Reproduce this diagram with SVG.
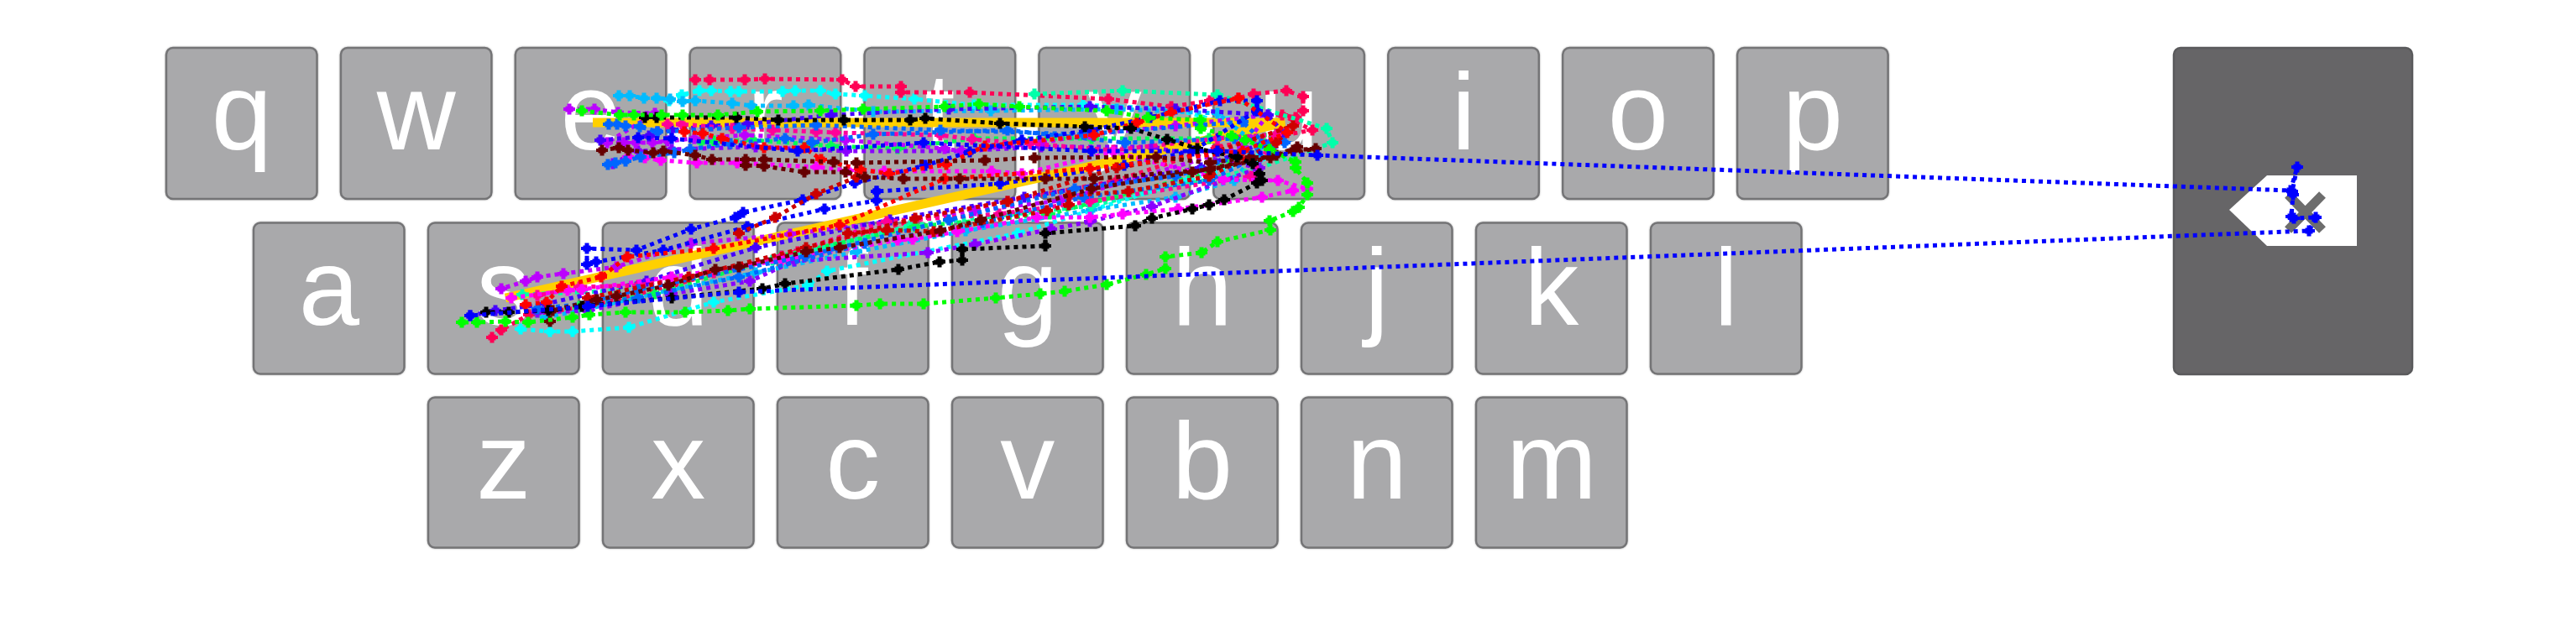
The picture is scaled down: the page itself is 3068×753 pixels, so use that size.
<svg xmlns="http://www.w3.org/2000/svg" width="3068" height="753" viewBox="0 0 3068 753">
<style>
.key rect{fill:#a9a9ab;stroke:#747476;stroke-width:2.5;filter:drop-shadow(0 0 1px #b4b4b4)}
.key text{font-family:"Liberation Sans",Arial,sans-serif;font-size:130px;fill:#fff;text-anchor:middle}
#connectors polyline{fill:none;stroke-width:5;stroke-dasharray:5 5}
#connectors polyline.gold{stroke:#ffd000;stroke-width:11;stroke-dasharray:none}
.a{stroke:#f05;marker:url(#ma)}.b{stroke:#0fa;marker:url(#mb)}.c{stroke:#0bf;marker:url(#mc)}.d{stroke:#0ff;marker:url(#md)}
.e{stroke:#0f0;marker:url(#me)}.f{stroke:#000;marker:url(#mf)}.g{stroke:#00f;marker:url(#mg)}.h{stroke:#06f;marker:url(#mh)}
.i{stroke:#40f;marker:url(#mi)}.j{stroke:#b0f;marker:url(#mj)}.k{stroke:#f0f;marker:url(#mk)}.l{stroke:#f09;marker:url(#ml)}
.m{stroke:#f00;marker:url(#mm)}.n{stroke:#c00;marker:url(#mn)}.o{stroke:#600;marker:url(#mo)}.p{stroke:#80f;marker:url(#mp)}.q{stroke:#0f5;marker:url(#mq)}
</style>
<defs>
<path id="plus" d="M-2.500-6.500H2.500V-3.500H4.500V-2H7V2H4.500V3.500H2.500V6.500H-2.500V3.500H-4.500V2H-7V-2H-4.500V-3.500H-2.500Z"/>
<marker id="ma" markerUnits="userSpaceOnUse" viewBox="-7 -7 14 14" markerWidth="14" markerHeight="14"><use href="#plus" fill="#f05"/></marker>
<marker id="mb" markerUnits="userSpaceOnUse" viewBox="-7 -7 14 14" markerWidth="14" markerHeight="14"><use href="#plus" fill="#0fa"/></marker>
<marker id="mc" markerUnits="userSpaceOnUse" viewBox="-7 -7 14 14" markerWidth="14" markerHeight="14"><use href="#plus" fill="#0bf"/></marker>
<marker id="md" markerUnits="userSpaceOnUse" viewBox="-7 -7 14 14" markerWidth="14" markerHeight="14"><use href="#plus" fill="#0ff"/></marker>
<marker id="me" markerUnits="userSpaceOnUse" viewBox="-7 -7 14 14" markerWidth="14" markerHeight="14"><use href="#plus" fill="#0f0"/></marker>
<marker id="mf" markerUnits="userSpaceOnUse" viewBox="-7 -7 14 14" markerWidth="14" markerHeight="14"><use href="#plus" fill="#000"/></marker>
<marker id="mg" markerUnits="userSpaceOnUse" viewBox="-7 -7 14 14" markerWidth="14" markerHeight="14"><use href="#plus" fill="#00f"/></marker>
<marker id="mh" markerUnits="userSpaceOnUse" viewBox="-7 -7 14 14" markerWidth="14" markerHeight="14"><use href="#plus" fill="#06f"/></marker>
<marker id="mi" markerUnits="userSpaceOnUse" viewBox="-7 -7 14 14" markerWidth="14" markerHeight="14"><use href="#plus" fill="#40f"/></marker>
<marker id="mj" markerUnits="userSpaceOnUse" viewBox="-7 -7 14 14" markerWidth="14" markerHeight="14"><use href="#plus" fill="#b0f"/></marker>
<marker id="mk" markerUnits="userSpaceOnUse" viewBox="-7 -7 14 14" markerWidth="14" markerHeight="14"><use href="#plus" fill="#f0f"/></marker>
<marker id="ml" markerUnits="userSpaceOnUse" viewBox="-7 -7 14 14" markerWidth="14" markerHeight="14"><use href="#plus" fill="#f09"/></marker>
<marker id="mm" markerUnits="userSpaceOnUse" viewBox="-7 -7 14 14" markerWidth="14" markerHeight="14"><use href="#plus" fill="#f00"/></marker>
<marker id="mn" markerUnits="userSpaceOnUse" viewBox="-7 -7 14 14" markerWidth="14" markerHeight="14"><use href="#plus" fill="#c00"/></marker>
<marker id="mo" markerUnits="userSpaceOnUse" viewBox="-7 -7 14 14" markerWidth="14" markerHeight="14"><use href="#plus" fill="#600"/></marker>
<marker id="mp" markerUnits="userSpaceOnUse" viewBox="-7 -7 14 14" markerWidth="14" markerHeight="14"><use href="#plus" fill="#80f"/></marker>
<marker id="mq" markerUnits="userSpaceOnUse" viewBox="-7 -7 14 14" markerWidth="14" markerHeight="14"><use href="#plus" fill="#0f5"/></marker>
</defs>
<rect width="3068" height="753" fill="#fff"/>
<g id="key-q" class="key"><rect x="198" y="57" width="179.500" height="180" rx="8"/><text x="287.800" y="178">q</text></g>
<g id="key-w" class="key"><rect x="405.900" y="57" width="179.500" height="180" rx="8"/><text x="495.700" y="178">w</text></g>
<g id="key-e" class="key"><rect x="613.800" y="57" width="179.500" height="180" rx="8"/><text x="703.600" y="178">e</text></g>
<g id="key-r" class="key"><rect x="821.700" y="57" width="179.500" height="180" rx="8"/><text x="911.500" y="178">r</text></g>
<g id="key-t" class="key"><rect x="1029.600" y="57" width="179.500" height="180" rx="8"/><text x="1119.400" y="178">t</text></g>
<g id="key-y" class="key"><rect x="1237.500" y="57" width="179.500" height="180" rx="8"/><text x="1327.300" y="178">y</text></g>
<g id="key-u" class="key"><rect x="1445.400" y="57" width="179.500" height="180" rx="8"/><text x="1535.200" y="178">u</text></g>
<g id="key-i" class="key"><rect x="1653.300" y="57" width="179.500" height="180" rx="8"/><text x="1743.100" y="178">i</text></g>
<g id="key-o" class="key"><rect x="1861.200" y="57" width="179.500" height="180" rx="8"/><text x="1951" y="178">o</text></g>
<g id="key-p" class="key"><rect x="2069.100" y="57" width="179.500" height="180" rx="8"/><text x="2158.900" y="178">p</text></g>
<g id="key-a" class="key"><rect x="302" y="265.500" width="179.500" height="180" rx="8"/><text x="391.800" y="387">a</text></g>
<g id="key-s" class="key"><rect x="510" y="265.500" width="179.500" height="180" rx="8"/><text x="599.800" y="387">s</text></g>
<g id="key-d" class="key"><rect x="718" y="265.500" width="179.500" height="180" rx="8"/><text x="807.800" y="387">d</text></g>
<g id="key-f" class="key"><rect x="926" y="265.500" width="179.500" height="180" rx="8"/><text x="1015.800" y="387">f</text></g>
<g id="key-g" class="key"><rect x="1134" y="265.500" width="179.500" height="180" rx="8"/><text x="1223.800" y="387">g</text></g>
<g id="key-h" class="key"><rect x="1342" y="265.500" width="179.500" height="180" rx="8"/><text x="1431.800" y="387">h</text></g>
<g id="key-j" class="key"><rect x="1550" y="265.500" width="179.500" height="180" rx="8"/><text x="1639.800" y="387">j</text></g>
<g id="key-k" class="key"><rect x="1758" y="265.500" width="179.500" height="180" rx="8"/><text x="1847.800" y="387">k</text></g>
<g id="key-l" class="key"><rect x="1966" y="265.500" width="179.500" height="180" rx="8"/><text x="2055.800" y="387">l</text></g>
<g id="key-z" class="key"><rect x="510" y="473.500" width="179.500" height="179" rx="8"/><text x="599.800" y="594">z</text></g>
<g id="key-x" class="key"><rect x="718" y="473.500" width="179.500" height="179" rx="8"/><text x="807.800" y="594">x</text></g>
<g id="key-c" class="key"><rect x="926" y="473.500" width="179.500" height="179" rx="8"/><text x="1015.800" y="594">c</text></g>
<g id="key-v" class="key"><rect x="1134" y="473.500" width="179.500" height="179" rx="8"/><text x="1223.800" y="594">v</text></g>
<g id="key-b" class="key"><rect x="1342" y="473.500" width="179.500" height="179" rx="8"/><text x="1431.800" y="594">b</text></g>
<g id="key-n" class="key"><rect x="1550" y="473.500" width="179.500" height="179" rx="8"/><text x="1639.800" y="594">n</text></g>
<g id="key-m" class="key"><rect x="1758" y="473.500" width="179.500" height="179" rx="8"/><text x="1847.800" y="594">m</text></g>
<g id="key-backspace"><rect x="2589" y="57" width="284" height="389" rx="8" fill="#666567" stroke="#5a5a5c" stroke-width="2.500"/><polygon points="2655,250 2700,209 2807,209 2807,293 2700,293" fill="#fff"/><path d="M2725,232L2766,274M2766,232L2725,274" stroke="#6d6d6d" stroke-width="11" fill="none"/></g>
<g id="connectors">
<polyline class="d" points="797,120 812,113 833,108 847,108 870,109 880,109 932,109 947,108 977,108 995,112 1030,114 1089,118 1160,125 1290,125 1400,130 1453,145 1462,145 1490,153 1500,190 1416,214 1212,278 985,323 962,340 850,360 749,390 682,395 655,395 620,392"/>
<polyline class="gold" points="706,146 1530,146 602,355"/>
<polyline class="c" points="737,114 750,114 767,117 782,117 798,118 813,121 828,120 872,123 895,126 945,126 963,125 1040,133 1180,132 1330,130 1450,135 1500,175 1470,215 1400,235 1300,250 1150,275 1020,300 900,325 800,345 700,368 650,378"/>
<polyline class="a" points="828,95 845,95 887,95 911,94 1003,95 1019,103 1073,103 1073,110 1155,110 1320,118 1395,127 1441,120 1475,117 1493,112 1532,108 1552,115 1552,132 1543,140 1527,137 1563,155 1450,175 1330,215 1200,240 1090,262 950,300 800,340 700,365 630,375 597,393 586,402"/>
<polyline class="b" points="1232,112 1337,108 1450,113 1580,153 1587,170 1500,200 1300,245 1084,269 920,310 760,345 622,351"/>
<polyline class="q" points="835,169 850,168 897,167 967,172 990,174 1069,177 1160,165 1300,165 1440,165 1520,160 1440,205 1250,255 1090,270 930,305 780,350 690,365 640,372"/>
<polyline class="p" points="730,195 760,180 800,178 900,175 1008,180 1145,180 1240,175 1372,175 1500,200 1372,246 1298,264 1252,273 1161,291 1105,301 946,311 893,335 800,350 700,370 640,372"/>
<polyline class="j" points="678,130 708,130 736,134 780,135 723,170 743,170 757,170 777,170 795,168 827,165 887,161 1007,167 1125,177 1145,180 1240,170 1298,160 1400,150 1510,137 1480,175 1263,239 1161,251 941,279 823,290 734,318 671,326 640,330 626,335 597,344"/>
<polyline class="i" points="715,167 773,162 783,157 800,155 847,150 890,148 990,137 1130,130 1298,127 1400,130 1510,137 1530,160 1430,200 1220,235 1060,262 900,295 770,335 650,362 590,370 560,376"/>
<polyline class="l" points="795,148 812,148 872,153 920,155 972,157 995,158 1120,161 1158,166 1227,171 1326,179 1450,165 1520,160 1490,210 1298,240 1190,255 1056,264 931,305 850,325 760,340 690,342 640,352"/>
<polyline class="k" points="748,187 768,188 787,191 830,194 878,194 972,199 1010,203 1053,204 1181,204 1217,207 1326,181 1457,214 1522,215 1557,225 1540,227 1503,235 1403,249 1337,255 1298,259 1235,259 1140,276 1087,285 1069,286 931,310 800,330 693,345 676,346 609,355"/>
<polyline class="h" points="724,196 733,194 745,192 763,187 803,182 822,178 870,171 935,165 967,170 1040,160 1200,155 1340,170 1470,165 1530,170 1440,215 1290,235 1170,265 1030,290 880,330 760,355 640,368"/>
<polyline class="h" points="725,148 735,148 745,150 762,151 783,157 880,152 972,149 1120,155 1290,160 1480,145 1510,175 1400,210 1280,225 1130,262 960,305 760,345 700,360"/>
<polyline class="g" points="1044,228 1044,239 982,249 890,270 790,298 710,312 699,315 699,296 758,298 823,273 876,259 885,253 956,238 1018,218 1102,197 1155,181 1217,167 1300,155 1370,140 1453,120 1497,120 1497,132 1420,180 1339,197 1191,219 1044,228"/>
<polyline class="n" points="1020,211 972,231 923,259 880,278"/>
<polyline class="n" points="1010,278 1056,274 1112,276 1247,251 1273,244 1273,233 1344,228 1440,210 1520,170 1540,150 1450,180 1330,200 1200,240 1090,260 960,295 820,330 700,355"/>
<polyline class="m" points="815,157 837,159 860,165 910,176 958,176 978,190 1025,202 1059,207 1127,196 1173,174 1303,161 1354,146 1395,134 1475,117 1533,158 1480,180 1298,201 1125,213 1000,268 850,296 747,306 716,330 669,341 651,360 626,363"/>
<polyline class="o" points="717,179 737,176 748,179 778,182 790,180 828,185 848,190 888,190 910,190 993,193 1020,194 1173,191 1232,188 1377,187 1441,194 1490,187 1513,188 1540,179 1567,177 1441,202 1303,213 1245,213 1143,213 1076,213 1030,211 1007,205 958,205 910,198 888,197"/>
<polyline class="o" points="1545,175 1520,185 1420,205 1300,225 1168,262 1120,275 1000,295 960,300 880,318 852,321 796,340 734,353 711,357 658,370 655,383"/>
<polyline class="f" points="768,140 782,140 877,140 927,143 1005,143 1084,143 1102,141 1191,147 1292,151 1347,153 1390,166 1426,177 1473,187 1492,195 1500,207 1503,215 1497,218 1458,238 1440,244 1420,249 1372,260 1352,269 1245,278 1245,293 1146,297 1146,310 1119,312 1070,321 935,338 908,344 800,355 693,365 653,370 606,372 579,372"/>
<polyline class="e" points="693,132 738,137 755,137 788,137 813,137 855,137 902,133 977,132 1028,130 1125,127 1166,124 1214,127 1318,132 1367,140 1430,143 1430,153 1467,162 1483,167 1512,178 1543,193 1543,200 1557,218 1557,232 1547,247 1540,252 1512,263 1513,274 1450,288 1431,301 1388,306 1388,320 1365,327 1318,339 1268,347 1239,350 1186,355 1100,362 1048,362 1020,364 893,368 867,370 816,372 745,372 702,375 682,378 629,384 602,383 568,384 550,384"/>
<polyline class="g" points="760,164 800,165 950,180 1100,170 1300,180 1450,180 1569,185 2728,227 2736,199 2730,228 2731,232 2729,258 2732,260 2758,259 2750,275 880,348 700,365 560,376"/>
</g>
</svg>
